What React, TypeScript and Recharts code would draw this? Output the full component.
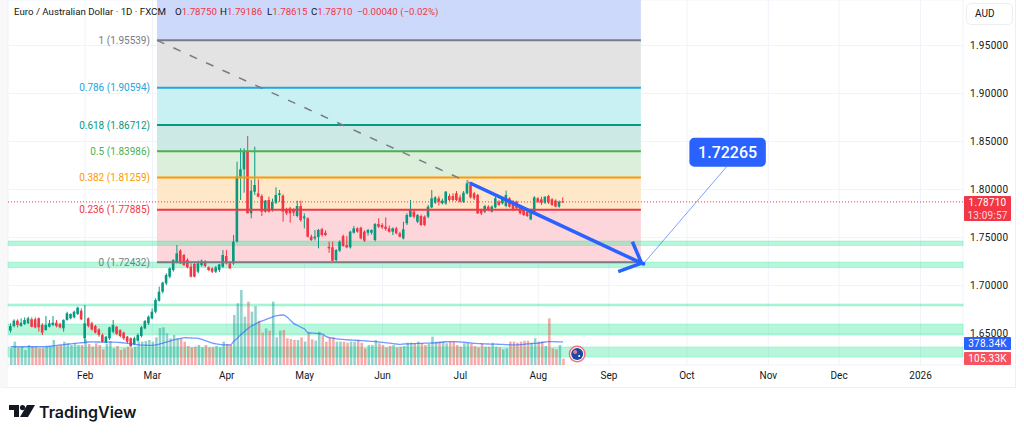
import React from 'react';
import {
  Bar,
  CartesianGrid,
  ComposedChart,
  Line,
  ReferenceArea,
  ReferenceDot,
  ReferenceLine,
  XAxis,
  YAxis
} from 'recharts';

const opens = [
  1.6530, 1.6578, 1.6634, 1.6578, 1.6599, 1.6606, 1.6648, 1.6648, 1.6658, 1.6589,
  1.6536, 1.6571, 1.6589, 1.6613, 1.6599, 1.6554, 1.6641, 1.6658, 1.6668, 1.6703,
  1.6738, 1.6450, 1.6658, 1.6606, 1.6578, 1.6543, 1.6484, 1.6405, 1.6450, 1.6519,
  1.6571, 1.6536, 1.6509, 1.6467, 1.6450, 1.6391, 1.6425, 1.6474, 1.6554, 1.6606,
  1.6658, 1.6727, 1.6842, 1.6936, 1.7023, 1.7092, 1.7161, 1.7248, 1.7363, 1.7318,
  1.7266, 1.7196, 1.7224, 1.7144,
  1.7213, 1.7248, 1.7189, 1.7179, 1.7144, 1.7161, 1.7196, 1.7307, 1.7231, 1.7231,
  1.7457, 1.8134, 1.8210, 1.8394, 1.7752, 1.7977, 1.7960, 1.7932, 1.7769, 1.7891,
  1.7786, 1.7863, 1.7943, 1.7936, 1.7786, 1.7804, 1.7786, 1.7724, 1.7828, 1.7700,
  1.7700, 1.7509, 1.7491, 1.7504, 1.7585, 1.7550, 1.7404, 1.7398, 1.7265, 1.7363,
  1.7515, 1.7420, 1.7398, 1.7550, 1.7595, 1.7602, 1.7561, 1.7550, 1.7550, 1.7474,
  1.7641, 1.7630, 1.7613, 1.7595, 1.7561, 1.7595, 1.7543,
  1.7491, 1.7648, 1.7717, 1.7769, 1.7665, 1.7724, 1.7717, 1.7717, 1.7814, 1.7863,
  1.7908, 1.7856, 1.7856, 1.7932, 1.7932, 1.7960, 1.7918, 1.7873, 1.7960, 1.8047,
  1.7960, 1.7943, 1.7786, 1.7769, 1.7821, 1.7769, 1.7814, 1.7873, 1.7856, 1.7828,
  1.7908, 1.7873, 1.7873, 1.7821, 1.7786, 1.7769, 1.7689, 1.7769, 1.7908, 1.7898,
  1.7863, 1.7932, 1.7898, 1.7884, 1.7821, 1.7875
];

const highs = [
  1.6606, 1.6648, 1.6648, 1.6658, 1.6668, 1.6675, 1.6668, 1.6668, 1.6668, 1.6606,
  1.6682, 1.6641, 1.6682, 1.6641, 1.6613, 1.6648, 1.6727, 1.6710, 1.6738, 1.6780,
  1.6762, 1.6797, 1.6668, 1.6623, 1.6589, 1.6554, 1.6502, 1.6474, 1.6571, 1.6641,
  1.6578, 1.6543, 1.6519, 1.6474, 1.6460, 1.6467, 1.6502, 1.6578, 1.6641, 1.6689,
  1.6762, 1.6866, 1.6988, 1.7040, 1.7127, 1.7189, 1.7273, 1.7422, 1.7377, 1.7328,
  1.7283, 1.7231, 1.7238, 1.7259,
  1.7272, 1.7265, 1.7200, 1.7190, 1.7205, 1.7225, 1.7370, 1.7370, 1.7245, 1.7526,
  1.8290, 1.8429, 1.8429, 1.8557, 1.8100, 1.8446, 1.8106, 1.7950, 1.7891, 1.7925,
  1.7905, 1.8023, 1.7995, 1.7950, 1.7810, 1.7820, 1.7805, 1.7884, 1.7884, 1.7752,
  1.7710, 1.7530, 1.7578, 1.7590, 1.7600, 1.7575, 1.7457, 1.7457, 1.7380, 1.7470,
  1.7530, 1.7515, 1.7570, 1.7620, 1.7606, 1.7613, 1.7575, 1.7590, 1.7585, 1.7650,
  1.7700, 1.7650, 1.7710, 1.7625, 1.7605, 1.7610, 1.7560,
  1.7665, 1.7752, 1.7891, 1.7786, 1.7745, 1.7740, 1.7730, 1.7840, 1.7995, 1.7930,
  1.7930, 1.7905, 1.7985, 1.7955, 1.7960, 1.7985, 1.7945, 1.7985, 1.8099, 1.8060,
  1.7975, 1.7955, 1.7800, 1.7840, 1.7835, 1.7835, 1.7925, 1.7890, 1.7915, 1.7988,
  1.7920, 1.7890, 1.7885, 1.7835, 1.7800, 1.7780, 1.7800, 1.7930, 1.7920, 1.7925,
  1.7930, 1.7945, 1.7910, 1.7898, 1.7885, 1.79186
];

const lows = [
  1.6509, 1.6564, 1.6564, 1.6571, 1.6589, 1.6599, 1.6564, 1.6554, 1.6519, 1.6484,
  1.6530, 1.6564, 1.6578, 1.6564, 1.6554, 1.6519, 1.6634, 1.6648, 1.6658, 1.6693,
  1.6641, 1.6398, 1.6564, 1.6530, 1.6502, 1.6467, 1.6405, 1.6398, 1.6432, 1.6502,
  1.6484, 1.6460, 1.6432, 1.6398, 1.6356, 1.6380, 1.6415, 1.6460, 1.6543, 1.6589,
  1.6648, 1.6710, 1.6832, 1.6918, 1.7005, 1.7075, 1.7144, 1.7231, 1.7224, 1.7203,
  1.7179, 1.7085, 1.7085, 1.7127,
  1.7196, 1.7190, 1.7150, 1.7130, 1.7130, 1.7140, 1.7180, 1.7220, 1.7170, 1.7215,
  1.7450, 1.7891, 1.7967, 1.7752, 1.7700, 1.7943, 1.7920, 1.7724, 1.7759, 1.7759,
  1.7769, 1.7850, 1.7873, 1.7665, 1.7735, 1.7655, 1.7725, 1.7710, 1.7665, 1.7595,
  1.7500, 1.7465, 1.7470, 1.7387, 1.7510, 1.7515, 1.7340, 1.7248, 1.7248, 1.7350,
  1.7405, 1.7390, 1.7385, 1.7540, 1.7550, 1.7480, 1.7455, 1.7520, 1.7530, 1.7460,
  1.7600, 1.7590, 1.7570, 1.7550, 1.7526, 1.7535, 1.7500,
  1.7480, 1.7630, 1.7710, 1.7700, 1.7650, 1.7620, 1.7620, 1.7700, 1.7805, 1.7850,
  1.7835, 1.7845, 1.7840, 1.7880, 1.7880, 1.7880, 1.7865, 1.7860, 1.7950, 1.7905,
  1.7890, 1.7745, 1.7734, 1.7755, 1.7775, 1.7760, 1.7805, 1.7830, 1.7845, 1.7815,
  1.7810, 1.7775, 1.7790, 1.7740, 1.7725, 1.7715, 1.7680, 1.7755, 1.7860, 1.7840,
  1.7850, 1.7850, 1.7830, 1.7815, 1.7810, 1.78615
];

const closes = [
  1.6578, 1.6634, 1.6589, 1.6613, 1.6641, 1.6658, 1.6571, 1.6564, 1.6564, 1.6509,
  1.6589, 1.6606, 1.6613, 1.6578, 1.6564, 1.6641, 1.6710, 1.6703, 1.6727, 1.6769,
  1.6648, 1.6606, 1.6578, 1.6543, 1.6509, 1.6484, 1.6415, 1.6467, 1.6564, 1.6589,
  1.6495, 1.6474, 1.6450, 1.6415, 1.6370, 1.6450, 1.6484, 1.6564, 1.6630, 1.6675,
  1.6727, 1.6849, 1.6936, 1.7030, 1.7109, 1.7179, 1.7266, 1.7335, 1.7231, 1.7214,
  1.7189, 1.7092, 1.7092, 1.7231,
  1.7258, 1.7203, 1.7161, 1.7144, 1.7189, 1.7220, 1.7318, 1.7231, 1.7179, 1.7457,
  1.8134, 1.8210, 1.8394, 1.7752, 1.7988, 1.8047, 1.7925, 1.7769, 1.7884, 1.7769,
  1.7873, 1.7943, 1.7960, 1.7769, 1.7752, 1.7752, 1.7759, 1.7828, 1.7682, 1.7720,
  1.7509, 1.7474, 1.7509, 1.7578, 1.7526, 1.7526, 1.7387, 1.7258, 1.7370, 1.7457,
  1.7411, 1.7398, 1.7561, 1.7595, 1.7561, 1.7491, 1.7467, 1.7578, 1.7578, 1.7641,
  1.7613, 1.7606, 1.7590, 1.7561, 1.7595, 1.7543, 1.7509,
  1.7585, 1.7734, 1.7793, 1.7717, 1.7734, 1.7630, 1.7630, 1.7821, 1.7908, 1.7918,
  1.7873, 1.7884, 1.7977, 1.7891, 1.7891, 1.7891, 1.7873, 1.7967, 1.8064, 1.7918,
  1.7908, 1.7752, 1.7752, 1.7828, 1.7786, 1.7821, 1.7908, 1.7839, 1.7908, 1.7943,
  1.7821, 1.7786, 1.7804, 1.7752, 1.7734, 1.7724, 1.7793, 1.7918, 1.7873, 1.7863,
  1.7925, 1.7863, 1.7839, 1.7821, 1.7873, 1.7871
];

// volume in thousands
const volumes = [
  274, 384, 290, 301, 247, 329, 301, 301, 274, 274,
  301, 301, 411, 312, 329, 384, 356, 329, 356, 329,
  329, 422, 345, 301, 356, 329, 258, 345, 395, 274,
  312, 247, 274, 301, 274, 301, 384, 384, 395, 411,
  384, 455, 608, 619, 521, 438, 493, 438, 433, 384,
  312, 290, 301, 329,
  290, 329, 290, 290, 312, 290, 384, 345, 329, 822,
  1014, 1233, 795, 1041, 877, 970, 729, 532, 603, 564,
  1041, 455, 564, 575, 438, 427, 411, 411, 455, 384,
  521, 422, 400, 548, 493, 384, 455, 455, 384, 384,
  384, 367, 384, 384, 411, 367, 274, 329, 329, 411,
  356, 329, 290, 312, 329, 290, 301,
  312, 367, 367, 356, 384, 356, 329, 345, 466, 384,
  384, 384, 356, 384, 384, 329, 301, 356, 367, 356,
  312, 290, 356, 301, 301, 367, 301, 290, 258, 274,
  384, 384, 367, 384, 400, 400, 367, 438, 384, 384,
  312, 767, 274, 258, 329, 105.33
];

const volumeMa = [
  301, 300, 302, 299, 301, 303, 300, 302, 301, 303, 304,
  308, 315, 322, 329, 336, 342, 348, 354, 360, 366,
  372, 378, 379, 378, 378, 377, 378, 376, 375, 373,
  370, 364, 356, 348, 340, 334, 328, 325, 323, 323,
  330, 345, 360, 378, 395, 412, 425, 438, 449, 447, 444, 441, 438,
  420, 400, 380, 360, 347, 338, 332, 330, 329, 390,
  440, 500, 550, 600, 640, 670, 700, 725, 745, 770,
  790, 810, 818, 822, 790, 735, 680, 650, 620, 590,
  530, 525, 520, 515, 510, 470, 450, 440, 430, 425,
  420, 415, 411, 408, 405, 400, 398, 392, 388, 384,
  378, 372, 365, 358, 352, 345, 340,
  345, 347, 350, 352, 354, 356, 358, 360, 362, 365,
  370, 376, 382, 384, 384, 382, 378, 374, 368, 362,
  356, 352, 349, 346, 345, 344, 343, 340, 338, 335,
  332, 330, 331, 334, 340, 346, 352, 356, 360, 370,
  378, 384, 384, 382, 380, 378.34
];

const monthBars = [21, 40, 61, 83, 105, 127, 149, 169, 191, 214, 234, 257];
const monthLabels = ['Feb', 'Mar', 'Apr', 'May', 'Jun', 'Jul', 'Aug', 'Sep', 'Oct', 'Nov', 'Dec', '2026'];
const priceTicks = [1.65, 1.7, 1.75, 1.8, 1.85, 1.9, 1.95];

const fibRatios = ['1', '0.786', '0.618', '0.5', '0.382', '0.236', '0'];
const fibPrices = [1.95539, 1.90594, 1.86712, 1.83986, 1.81259, 1.77885, 1.72432];
const fibLineColors = ['#787b86', '#22a6dc', '#089981', '#4caf50', '#ff9800', '#f23645', '#787b86'];
const fibBandColors = ['#e3e3e4', '#c9f1f4', '#cde9e5', '#dcefdb', '#fee8c9', '#fcd6da'];

// support zones, [bottom, top]
const zones = [
  [1.74167, 1.74635],
  [1.71854, 1.72448],
  [1.67865, 1.68073],
  [1.64844, 1.6599],
  [1.62552, 1.63594]
];

const GREEN = '#089981';
const RED = '#f23645';
const BLUE = '#2962ff';
const FONT = 'Roboto, sans-serif';

const X_MIN = -0.79;
const X_MAX = 269;
const PRICE_MIN = 1.6172;
const PRICE_MAX = 1.9974;

const FIB_START = 41.3;
const FIB_END = 178;
const TREND_START = { x: 129.7, y: 1.80677 };
const TREND_END = { x: 178.2, y: 1.72323 };
const WING_A = { x: 171.6, y: 1.71438 };
const WING_B = { x: 175.6, y: 1.74563 };
const FLAG = { x: 160, y: 1.62865 };

const rows = opens.map((open, i) => ({
  bar: i,
  up: closes[i] >= open,
  wick: [lows[i], highs[i]],
  body: [Math.min(open, closes[i]), Math.max(open, closes[i])],
  volume: volumes[i],
  volumeMa: volumeMa[i]
}));

const CandlePart = (props: any) => {
  const { x, y, width, height, payload } = props;
  return (
    <rect
      x={x}
      y={y}
      width={width}
      height={Math.max(height, 1)}
      fill={payload.up ? GREEN : RED}
    />
  );
};

const VolumeBar = (props: any) => {
  const { x, y, width, height, payload } = props;
  return (
    <rect
      x={x}
      y={y}
      width={width}
      height={height}
      fill={payload.up ? '#26a69a' : '#ef5350'}
      fillOpacity={0.5}
    />
  );
};

const FlagMark = (props: any) => (
  <g>
    <circle cx={props.cx} cy={props.cy} r={8.5} fill="#f4707c" />
    <circle cx={props.cx} cy={props.cy} r={7} fill="#ffffff" />
    <circle cx={props.cx} cy={props.cy} r={6} fill="#1b4aa6" />
    <circle cx={props.cx - 2} cy={props.cy - 2} r={2} fill="#e8808c" />
    <circle cx={props.cx + 2} cy={props.cy + 2} r={1} fill="#ffffff" />
  </g>
);

const axisIds = { xAxisId: 'main', yAxisId: 'price' };

const Pill = ({ top, height, color, children }: any) => (
  <div
    style={{
      position: 'absolute',
      left: 964,
      top,
      width: 47,
      height,
      background: color,
      color: '#fff',
      font: `10px ${FONT}`,
      letterSpacing: 0.2,
      textAlign: 'center',
      lineHeight: '13px',
      borderRadius: 1
    }}
  >
    {children}
  </div>
);

const H = ({ label, value, left }: any) => (
  <span style={{ position: 'absolute', left, top: 6, whiteSpace: 'nowrap' }}>
    {label}
    <span style={{ color: RED }}>{value}</span>
  </span>
);

const App: React.FC = () => {
  return (
    <div
      style={{
        position: 'absolute',
        left: 0,
        top: 0,
        width: 1024,
        height: 436,
        background: '#fff',
        overflow: 'hidden'
      }}
    >
      <div
        style={{
          position: 'absolute',
          left: 0,
          top: 0,
          width: 1007,
          height: 387,
          borderLeft: '8px solid #f8f8f9',
          borderRight: '1px solid #eeeff2',
          borderBottom: '1px solid #eeeff2'
        }}
      />
      <div style={{ position: 'absolute', left: 0, top: 0 }}>
        <ComposedChart
          width={1024}
          height={436}
          data={rows}
          margin={{ top: 0, right: 9, bottom: 49, left: 8 }}
          style={{ fontFamily: FONT }}
        >
          <CartesianGrid {...axisIds} stroke="#f0f3fa" />
          <XAxis
            xAxisId="main"
            dataKey="bar"
            type="number"
            domain={[X_MIN, X_MAX]}
            allowDataOverflow
            ticks={monthBars}
            interval={0}
            height={22}
            tickLine={false}
            axisLine={false}
            tickSize={0}
            tickMargin={7}
            tick={{ fontSize: 10, fill: '#131722' }}
            tickFormatter={(v: number) => monthLabels[monthBars.indexOf(v)]}
          />
          <XAxis xAxisId="wick" dataKey="bar" type="number" domain={[X_MIN, X_MAX]} allowDataOverflow hide height={0} />
          <XAxis xAxisId="body" dataKey="bar" type="number" domain={[X_MIN, X_MAX]} allowDataOverflow hide height={0} />
          <XAxis xAxisId="vol" dataKey="bar" type="number" domain={[X_MIN, X_MAX]} allowDataOverflow hide height={0} />
          <YAxis
            yAxisId="price"
            orientation="right"
            width={52}
            domain={[PRICE_MIN, PRICE_MAX]}
            allowDataOverflow
            ticks={priceTicks}
            interval={0}
            tickLine={false}
            axisLine={false}
            tickSize={0}
            tickMargin={7}
            tick={{ fontSize: 10, fill: '#131722', letterSpacing: 0.3 }}
            tickFormatter={(v: number) => v.toFixed(5)}
          />
          <YAxis yAxisId="vol" domain={[0, 6000]} allowDataOverflow hide width={0} />

          <ReferenceArea
            {...axisIds}
            x1={FIB_START}
            x2={FIB_END}
            y1={fibPrices[0]}
            y2={PRICE_MAX}
            fill="#ccd9fb"
            fillOpacity={1}
            stroke="none"
          />
          {fibBandColors.map((color, i) => (
            <ReferenceArea
              key={color}
              {...axisIds}
              x1={FIB_START}
              x2={FIB_END}
              y1={fibPrices[i + 1]}
              y2={fibPrices[i]}
              fill={color}
              fillOpacity={1}
              stroke="none"
            />
          ))}
          {zones.map(([low, high]) => (
            <ReferenceArea
              key={low}
              {...axisIds}
              x1={X_MIN}
              x2={X_MAX}
              y1={low}
              y2={high}
              fill="#22e696"
              fillOpacity={0.33}
              stroke="#22e696"
              strokeOpacity={0.25}
            />
          ))}
          {fibPrices.map((price, i) => (
            <ReferenceLine
              key={price}
              {...axisIds}
              segment={[
                { x: FIB_START, y: price },
                { x: FIB_END, y: price }
              ]}
              stroke={fibLineColors[i]}
              strokeWidth={2}
              label={{
                value: `${fibRatios[i]} (${price.toFixed(5)})`,
                position: 'left',
                offset: 7,
                fill: fibLineColors[i],
                fontSize: 10,
                fontFamily: FONT
              }}
            />
          ))}
          <ReferenceLine
            {...axisIds}
            segment={[
              { x: FIB_START, y: fibPrices[0] },
              TREND_START
            ]}
            stroke="#787b86"
            strokeWidth={1.5}
            strokeDasharray="8 10"
          />
          <ReferenceLine {...axisIds} y={closes[closes.length - 1]} stroke={RED} strokeDasharray="1 2" />

          <Bar dataKey="volume" xAxisId="vol" yAxisId="vol" barSize={2.5} shape={VolumeBar} isAnimationActive={false} />
          <Line
            dataKey="volumeMa"
            xAxisId="vol"
            yAxisId="vol"
            type="monotone"
            stroke={BLUE}
            strokeOpacity={0.65}
            strokeWidth={1.3}
            dot={false}
            isAnimationActive={false}
          />
          <Bar dataKey="wick" xAxisId="wick" yAxisId="price" barSize={1} shape={CandlePart} isAnimationActive={false} />
          <Bar dataKey="body" xAxisId="body" yAxisId="price" barSize={2.6} shape={CandlePart} isAnimationActive={false} />

          <ReferenceLine {...axisIds} segment={[TREND_START, TREND_END]} stroke={BLUE} strokeWidth={3.5} />
          <ReferenceLine {...axisIds} segment={[WING_A, TREND_END]} stroke={BLUE} strokeWidth={3.5} />
          <ReferenceLine {...axisIds} segment={[WING_B, TREND_END]} stroke={BLUE} strokeWidth={3.5} />
          <ReferenceLine
            {...axisIds}
            segment={[
              { x: 202.2, y: 1.82365 },
              { x: 178.7, y: 1.72265 }
            ]}
            stroke={BLUE}
            strokeOpacity={0.6}
          />
          <ReferenceDot {...axisIds} x={178.7} y={1.72265} r={2} fill={BLUE} stroke="none" />
          <ReferenceArea
            {...axisIds}
            x1={191.7}
            x2={213.3}
            y1={1.82365}
            y2={1.85396}
            radius={5}
            fill={BLUE}
            fillOpacity={1}
            stroke="none"
            label={{ value: '1.72265', fill: '#fff', fontSize: 16, fontFamily: FONT, fontWeight: 500, position: 'center' }}
          />
          <ReferenceDot {...axisIds} x={FLAG.x} y={FLAG.y} r={8} shape={FlagMark} />
        </ComposedChart>
      </div>

      <div style={{ position: 'absolute', left: 0, top: 0, width: 440, height: 20, font: `9.7px ${FONT}`, color: '#131722' }}>
        <span style={{ position: 'absolute', left: 14, top: 6, whiteSpace: 'nowrap' }}>
          Euro / Australian Dollar · 1D · FXCM
        </span>
        <H label="O" value="1.78750" left={175} />
        <H label="H" value="1.79186" left={220} />
        <H label="L" value="1.78615" left={267} />
        <H label="C" value="1.78710" left={311} />
        <span style={{ position: 'absolute', left: 357, top: 6, color: RED, whiteSpace: 'nowrap' }}>
          −0.00040 (−0.02%)
        </span>
      </div>

      <div
        style={{
          position: 'absolute',
          left: 966,
          top: 3,
          width: 37,
          height: 20,
          border: '1px solid #eceef2',
          borderRadius: 5,
          font: `10px ${FONT}`,
          color: '#131722',
          lineHeight: '20px',
          paddingLeft: 8
        }}
      >
        AUD
      </div>

      <Pill top={196} height={25} color={RED}>
        1.78710
        <br />
        <span style={{ color: '#ffd6da' }}>13:09:57</span>
      </Pill>
      <Pill top={337} height={13} color={BLUE}>378.34K</Pill>
      <Pill top={352} height={13} color="#f7525f">105.33K</Pill>

      <svg style={{ position: 'absolute', left: 9, top: 404 }} width="26" height="15">
        <path d="M0 1H10V13H5V6H0Z" fill="#131722" />
        <circle cx="13.5" cy="3.6" r="2.6" fill="#131722" />
        <path d="M18 1H26L19 13H11Z" fill="#131722" />
      </svg>
      <div
        style={{
          position: 'absolute',
          left: 39,
          top: 402,
          font: `600 16px Inter, sans-serif`,
          color: '#131722'
        }}
      >
        TradingView
      </div>
    </div>
  );
};

export default App;
